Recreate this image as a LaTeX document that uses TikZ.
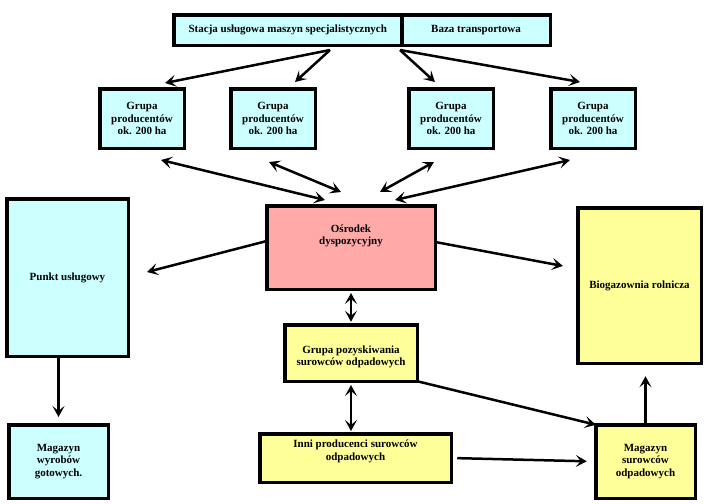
\documentclass[tikz,border=0pt]{standalone}
\usepackage{fontspec}
\setmainfont{Liberation Serif}
\usepackage{xcolor}
\usetikzlibrary{positioning,arrows.meta}

\definecolor{boxcyan}{HTML}{CCFFFF}
\definecolor{boxyellow}{HTML}{FFFF99}
\definecolor{boxpink}{HTML}{FFA9A9}

\begin{document}
\begin{tikzpicture}[
		x=1pt, y=-1pt,
		every node/.style={
			draw,
			line width=3.5pt,
			outer sep=0pt,
			inner sep=2pt,
			align=center,
			font=\fontsize{11}{12.3}\selectfont\bfseries
		},
		cyanbox/.style={fill=boxcyan},
		yellowbox/.style={fill=boxyellow},
		grupa/.style={cyanbox, minimum width=84.5pt, minimum height=59.5pt},
		link/.style={line width=2.5pt, -{Stealth[length=11pt,width=12pt,inset=5pt]}},
		dlink/.style={line width=2.5pt, {Stealth[length=11pt,width=12pt,inset=5pt]}-{Stealth[length=11pt,width=12pt,inset=5pt]}}
		]
		
		\useasboundingbox (0,0) rectangle (724,504);
		
		\node (stacja) [cyanbox, minimum width=228pt, minimum height=30.5pt] at (287.75,30) {Stacja usługowa maszyn specjalistycznych};
		\node (baza) [cyanbox, minimum width=148.5pt, minimum height=30.5pt, right=0pt of stacja] {Baza transportowa};
		
		\node (g1) [grupa] at (142,118.5) {Grupa\\producentów\\ok. 200 ha};
		\node (g2) [grupa] at (273,118.5) {Grupa\\producentów\\ok. 200 ha};
		\node (g3) [grupa] at (451,118.5) {Grupa\\producentów\\ok. 200 ha};
		\node (g4) [grupa] at (593,118.5) {Grupa\\producentów\\ok. 200 ha};
		
		\node (osr) [fill=boxpink, minimum width=168.5pt, minimum height=83.5pt, text depth=26pt] at (351,247.5) {Ośrodek\\dyspozycyjny};
		\node (punkt) [cyanbox, minimum width=121.5pt, minimum height=157.5pt] at (67.5,277.5) {Punkt usługowy};
		\node (magw) [cyanbox, minimum width=99.5pt, minimum height=73.5pt] at (58.5,461.5) {Magazyn\\wyrobów\\gotowych.};
		\node (bio) [yellowbox, minimum width=123.5pt, minimum height=155.5pt] at (639.5,285.5) {Biogazownia rolnicza};
		\node (gp) [yellowbox, minimum width=132.5pt, minimum height=56.5pt, text height=27pt] at (351,353) {Grupa pozyskiwania\\surowców odpadowych};
		\node (inni) [yellowbox, minimum width=191.5pt, minimum height=48.5pt, text depth=15.4pt] at (355.5,458) {Inni producenci surowców\\odpadowych};
		\node (mags) [yellowbox, minimum width=99.5pt, minimum height=73.5pt] at (645.5,461.5) {Magazyn\\surowców\\odpadowych};
		
		% free ends of the connectors
		\coordinate (fanl) at (330,50);
		\coordinate (fanr) at (400,50);
		\coordinate (g1top) at (165,83);
		\coordinate (g2top) at (295,82);
		\coordinate (g3top) at (435,82);
		\coordinate (g4top) at (580,82);
		\coordinate (g1bot) at (161,160);
		\coordinate (g2bot) at (269,162);
		\coordinate (g3bot) at (434,162);
		\coordinate (g4bot) at (570,160);
		\coordinate (g1osr) at (325,200);
		\coordinate (g2osr) at (341,192);
		\coordinate (g3osr) at (380,192);
		\coordinate (g4osr) at (395,200);
		\coordinate (punktin) at (147,272);
		\coordinate (bioin) at (563,266);
		
		\draw[link] (fanl)--(g1top);
		\draw[link] (fanl)--(g2top);
		\draw[link] (fanr)--(g3top);
		\draw[link] (fanr)--(g4top);
		
		\draw[dlink] (g1bot)--(g1osr);
		\draw[dlink] (g2bot)--(g2osr);
		\draw[dlink] (g3bot)--(g3osr);
		\draw[dlink] (g4bot)--(g4osr);
		
		\draw[link] ([yshift=6.5pt]osr.west)--(punktin);
		\draw[link] ([yshift=5.5pt]osr.east)--(bioin);
		\draw[dlink, shorten <=3.75pt, shorten >=3pt] (osr)--(gp);
		\draw[dlink, shorten <=3.75pt, shorten >=2.75pt] (gp.south)--(gp.south |- inni.north);
		\draw[link] (gp.south east)--(mags.north west);
		\draw[link, shorten <=6pt, shorten >=9pt] (inni.east)--(mags.west);
		\draw[link, shorten >=13pt] (mags.north)--(mags.north |- bio.south);
		\draw[link, shorten >=7.75pt] (punkt.south -| magw.north)--(magw.north);
		
	\end{tikzpicture}
\end{document}
